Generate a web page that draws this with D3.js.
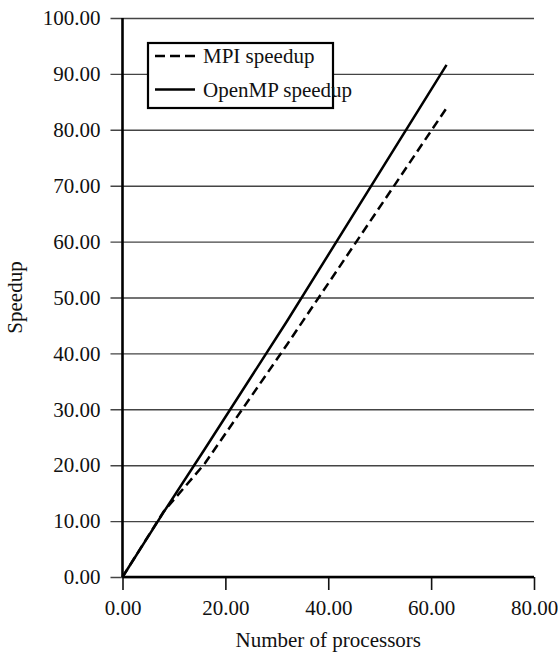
<!DOCTYPE html>
<html>
<head>
<meta charset="utf-8">
<script src="https://cdn.jsdelivr.net/npm/d3@7"></script>
<style>
  body { margin: 0; background: #fff; }
  text { font-family: "Liberation Serif", "Times New Roman", serif; fill: #111; }
</style>
</head>
<body>
<div id="chart"></div>
<script>
// data
var processors = [0, 8, 16, 32, 63];
var mpiSpeedup = [0, 11.7, 20.3, 41.6, 83.9];
var openmpSpeedup = [0, 11.6, 22.9, 45.8, 91.6];
var xTicks = [0, 20, 40, 60, 80];
var yTicks = [0, 10, 20, 30, 40, 50, 60, 70, 80, 90, 100];
var seriesNames = ["MPI speedup", "OpenMP speedup"];

// dimensions
var W = 558, H = 655;
var margin = {top: 18, right: 24, bottom: 78, left: 122.5};
var width = W - margin.left - margin.right,
    height = H - margin.top - margin.bottom;

var x = d3.scaleLinear().domain([0, 80]).range([0, width]);
var y = d3.scaleLinear().domain([0, 100]).range([height, 0]);
var fmt = d3.format(".2f");

var svg = d3.select("#chart").append("svg")
    .attr("width", W)
    .attr("height", H)
  .append("g")
    .attr("transform", "translate(" + margin.left + "," + margin.top + ")");

// horizontal gridlines + left ticks
var yAxis = svg.append("g")
    .call(d3.axisLeft(y).tickValues(yTicks).tickFormat(fmt)
      .tickSizeInner(-width).tickSizeOuter(0).tickPadding(22));
yAxis.select(".domain").remove();
yAxis.selectAll(".tick line")
    .attr("x1", -12)
    .attr("stroke", "#444")
    .attr("stroke-width", 1.4);
yAxis.selectAll(".tick text")
    .attr("x", -22)
    .style("font-size", "21px")
    .style("font-family", "Liberation Serif, serif")
    .attr("fill", "#111");

// x axis
var xAxis = svg.append("g")
    .attr("transform", "translate(0," + height + ")")
    .call(d3.axisBottom(x).tickValues(xTicks).tickFormat(fmt)
      .tickSizeInner(13).tickSizeOuter(0).tickPadding(10));
xAxis.select(".domain").remove();
xAxis.selectAll(".tick line")
    .attr("stroke", "#111")
    .attr("stroke-width", 1.6);
xAxis.selectAll(".tick text")
    .style("font-size", "21px")
    .style("font-family", "Liberation Serif, serif")
    .attr("fill", "#111");

// axis lines (heavy)
svg.append("line")
    .attr("x1", x(0)).attr("x2", x(80))
    .attr("y1", y(0)).attr("y2", y(0))
    .attr("stroke", "#000").attr("stroke-width", 2.6);
svg.append("line")
    .attr("x1", x(0)).attr("x2", x(0))
    .attr("y1", y(0)).attr("y2", y(100))
    .attr("stroke", "#000").attr("stroke-width", 2.6);

// lines
var line = d3.line()
    .x(function(d) { return x(d[0]); })
    .y(function(d) { return y(d[1]); });

var mpiData = processors.map(function(p, i) { return [p, mpiSpeedup[i]]; });
var ompData = processors.map(function(p, i) { return [p, openmpSpeedup[i]]; });

svg.append("path")
    .datum(ompData)
    .attr("fill", "none")
    .attr("stroke", "#000")
    .attr("stroke-width", 2.5)
    .attr("d", line);

svg.append("path")
    .datum(mpiData)
    .attr("fill", "none")
    .attr("stroke", "#000")
    .attr("stroke-width", 2.5)
    .attr("stroke-dasharray", "9,5")
    .attr("d", line);

// legend
var lg = svg.append("g")
    .attr("transform", "translate(" + (148 - margin.left) + "," + (43 - margin.top) + ")");
lg.append("rect")
    .attr("width", 185).attr("height", 65)
    .attr("fill", "#fff")
    .attr("stroke", "#000")
    .attr("stroke-width", 2.2);
[0, 1].forEach(function(i) {
  var yy = 13 + i * 33.5;
  lg.append("line")
      .attr("x1", 7).attr("x2", 47)
      .attr("y1", yy).attr("y2", yy)
      .attr("stroke", "#000")
      .attr("stroke-width", 2.5)
      .attr("stroke-dasharray", i === 0 ? "10,5" : null);
  lg.append("text")
      .attr("x", 55).attr("y", yy + 7)
      .style("font-size", "21px")
      .text(seriesNames[i]);
});

// axis titles
svg.append("text")
    .attr("x", width / 2)
    .attr("y", height + 70)
    .attr("text-anchor", "middle")
    .style("font-size", "21px")
    .text("Number of processors");

svg.append("text")
    .attr("transform", "translate(" + (22 - margin.left) + "," + (height / 2) + ") rotate(-90)")
    .attr("text-anchor", "middle")
    .style("font-size", "21px")
    .text("Speedup");
</script>
</body>
</html>
